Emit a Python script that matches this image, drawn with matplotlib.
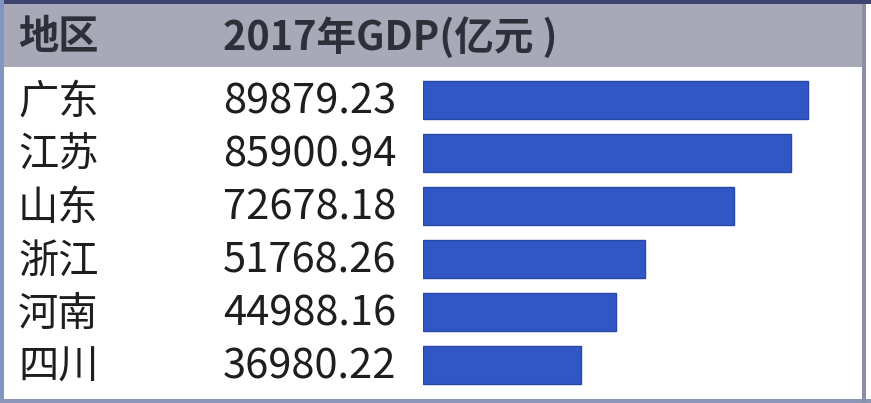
import matplotlib.pyplot as plt
import matplotlib.transforms as mtransforms
from matplotlib.patches import Rectangle

plt.rcParams['font.family'] = ['Noto Sans CJK SC', 'DejaVu Sans']

# data
regions = ['广东', '江苏', '山东', '浙江', '河南', '四川']
gdp = [89879.23, 85900.94, 72678.18, 51768.26, 44988.16, 36980.22]
headers = ['地区', '2017年GDP(亿元 )']

W, H = 871, 403
fig = plt.figure(figsize=(W / 100, H / 100), dpi=100)
fig.patch.set_facecolor('white')

def fx(px):
    return px / W

def fy(py):
    return (H - py) / H

# header band
fig.patches.append(Rectangle((fx(4), fy(67)), fx(862 - 4), (67 - 4) / H,
                             transform=fig.transFigure, facecolor='#a7a9b9',
                             edgecolor='none', zorder=0))

# frame lines
fig.patches.append(Rectangle((0, fy(4)), 1, 4 / H, transform=fig.transFigure,
                             facecolor='#3d4470', edgecolor='none'))
fig.patches.append(Rectangle((0, 0), fx(4), 1, transform=fig.transFigure,
                             facecolor='#8393c2', edgecolor='none'))
fig.patches.append(Rectangle((0, 0), 1, 4 / H, transform=fig.transFigure,
                             facecolor='#8a95b8', edgecolor='none'))
fig.patches.append(Rectangle((fx(862), 0), fx(4), fy(4), transform=fig.transFigure,
                             facecolor='#8c90a6', edgecolor='none'))

# bars
ax = fig.add_axes([fx(423), fy(395), fx(866 - 423), (395 - 68) / H])
ax.barh(range(len(regions)), gdp, height=0.7, color='#3157c6',
        edgecolor='#2846a4', linewidth=1)
ax.set_xlim(0, max(gdp) * 443 / 385)
ax.set_ylim(5.566, -0.604)
ax.axis('off')

trans = mtransforms.blended_transform_factory(fig.transFigure, ax.transData)
for i, (r, v) in enumerate(zip(regions, gdp)):
    ax.text(fx(18), i + 0.04, r, transform=trans, va='center', ha='left',
            fontsize=29, color='#1e1e1e')
    ax.text(fx(223), i + 0.04, f'{v:.2f}', transform=trans, va='center', ha='left',
            fontsize=30, color='#1e1e1e')

fig.text(fx(18), fy(38), headers[0], va='center', ha='left', fontsize=29,
         fontweight='bold', color='#2e2f38')
fig.text(fx(223), fy(38), headers[1], va='center', ha='left', fontsize=28.5,
         fontweight='bold', color='#2e2f38')

plt.savefig('out.png', dpi=100)
